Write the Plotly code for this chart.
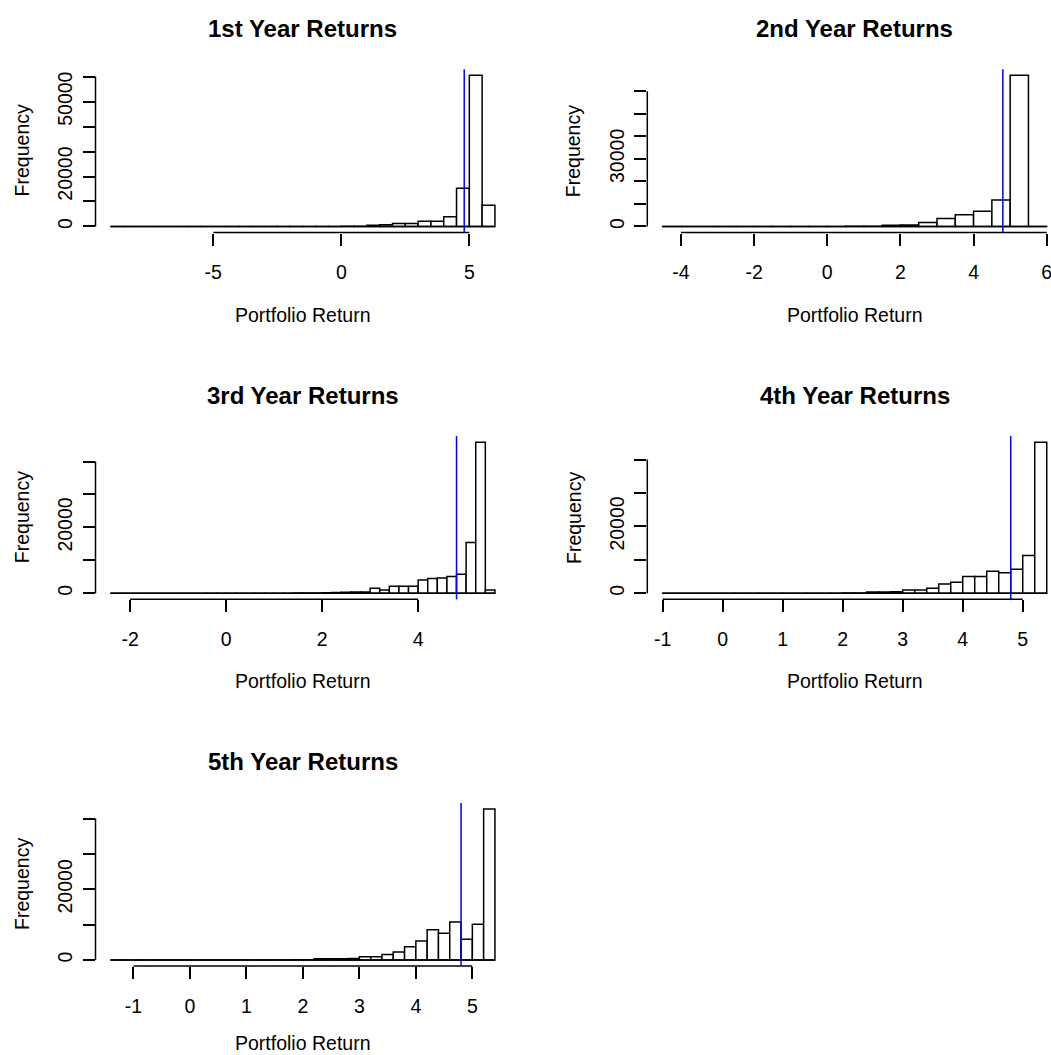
import plotly.graph_objects as go

# ---- data -------------------------------------------------------------
titles = ["1st Year Returns", "2nd Year Returns", "3rd Year Returns",
          "4th Year Returns", "5th Year Returns"]

# first break and bin width of each year's histogram
bin_starts = [-9.0, -4.5, -2.4, -1.0, -1.4]
bin_widths = [0.5, 0.5, 0.2, 0.2, 0.2]

year1_counts = [1, 0, 0, 0, 0, 0, 1, 0, 0, 1, 1, 0, 2, 3, 4, 7, 12, 21, 48, 130,
                450, 650, 1200, 1200, 2100, 2100, 3900, 15300, 60500, 8500]
year2_counts = [1, 0, 0, 1, 0, 1, 2, 3, 6, 14, 38, 95,
                500, 650, 1700, 3500, 5200, 6700, 11700, 67000, 3]
year3_counts = [1, 0, 0, 0, 1, 0, 0, 1, 0, 1, 2, 1, 3, 4, 6, 9, 13, 19, 28, 40,
                58, 85, 120, 250, 300, 350, 400, 1500, 1000, 2100, 2100, 2100,
                4000, 4500, 4600, 5100, 5800, 15400, 45900, 1000]
year4_counts = [1, 0, 0, 1, 0, 1, 1, 2, 3, 4, 7, 10, 16, 24, 38, 60, 95,
                350, 400, 450, 1000, 1000, 1500, 2800, 3300, 5000, 5000,
                6600, 6100, 7200, 11300, 45200]
year5_counts = [1, 0, 0, 0, 1, 0, 1, 1, 2, 3, 5, 7, 11, 17, 26, 40, 62, 98,
                350, 400, 400, 450, 950, 950, 1600, 2300, 3750, 5400, 8550,
                7550, 10750, 5900, 10100, 42700]
all_counts = [year1_counts, year2_counts, year3_counts, year4_counts, year5_counts]

target_return = [4.8, 4.8, 4.8, 4.8, 4.8]

x_tickvals = [[-5, 0, 5], [-4, -2, 0, 2, 4, 6], [-2, 0, 2, 4],
              [-1, 0, 1, 2, 3, 4, 5], [-1, 0, 1, 2, 3, 4, 5]]
x_ticktext = [["-5", "0", "5"], ["-4", "-2", "0", "2", "4", "6"],
              ["-2", "0", "2", "4"], ["-1", "0", "1", "2", "3", "4", "5"],
              ["-1", "0", "1", "2", "3", "4", "5"]]
y_tickvals = [[0, 10000, 20000, 30000, 40000, 50000, 60000],
              [0, 10000, 20000, 30000, 40000, 50000, 60000],
              [0, 10000, 20000, 30000, 40000],
              [0, 10000, 20000, 30000, 40000],
              [0, 10000, 20000, 30000, 40000]]
y_ticktext = [["0", "", "20000", "", "", "50000", ""],
              ["0", "", "", "30000", "", "", ""],
              ["0", "", "20000", "", ""],
              ["0", "", "20000", "", ""],
              ["0", "", "20000", "", ""]]

x_label = "Portfolio Return"
y_label = "Frequency"

# ---- page geometry (pixels) -------------------------------------------
W, H = 1051, 1055
PLOT_W, PLOT_H = 414.8, 163.2
COL_LEFT = [95.5, 647.3]
ROW_TOP = [69.3, 436.1, 802.9]
FONT = "Liberation Sans, Arial, sans-serif"
TXT = 19.5
LW = 1.5

fig = go.Figure()
layout = dict(width=W, height=H, margin=dict(l=0, r=0, t=0, b=0),
              paper_bgcolor="white", plot_bgcolor="white", template="none",
              showlegend=False, font=dict(family=FONT, size=TXT, color="black"))
shapes, annotations = [], []

for k, counts in enumerate(all_counts):
    row, col = divmod(k, 2)
    sfx = "" if k == 0 else str(k + 1)
    xa, ya = "x" + sfx, "y" + sfx

    n = len(counts)
    edges = [bin_starts[k] + bin_widths[k] * i for i in range(n + 1)]
    centers = [(edges[i] + edges[i + 1]) / 2 for i in range(n)]
    widths = [edges[i + 1] - edges[i] for i in range(n)]

    lo, hi = edges[0], edges[-1]
    span = hi - lo
    xr = [lo - 0.04 * span, hi + 0.04 * span]
    left = COL_LEFT[col]
    right = left + PLOT_W
    if right > W:  # the right column runs off the page edge
        xr[1] = xr[0] + (xr[1] - xr[0]) * (W - left) / PLOT_W
        right = W
    top = ROW_TOP[row]
    bottom = top + PLOT_H
    ymax = max(counts)
    yr = [-0.04 * ymax, 1.04 * ymax]

    fig.add_trace(go.Bar(
        x=centers, y=counts, width=widths, xaxis=xa, yaxis=ya,
        marker=dict(color="white", line=dict(color="black", width=LW)),
        hoverinfo="skip"))
    # empty bins are drawn as a flat line along zero
    fig.add_trace(go.Scatter(
        x=[lo, hi], y=[0, 0], mode="lines", xaxis=xa, yaxis=ya,
        line=dict(color="black", width=LW), hoverinfo="skip"))

    axis_common = dict(ticks="outside", ticklen=12, tickwidth=LW, tickcolor="black",
                       showgrid=False, zeroline=False, showline=False,
                       tickmode="array", tickfont=dict(size=TXT, family=FONT),
                       automargin=False, ticklabeloverflow="allow")
    layout["xaxis" + sfx] = dict(axis_common, domain=[left / W, right / W], range=xr,
                                 anchor=ya, tickvals=x_tickvals[k],
                                 ticktext=x_ticktext[k], ticklabelstandoff=10)
    layout["yaxis" + sfx] = dict(axis_common, domain=[1 - bottom / H, 1 - top / H],
                                 range=yr, anchor=xa, tickvals=y_tickvals[k],
                                 ticktext=y_ticktext[k], tickangle=-90,
                                 ticklabelstandoff=3)

    # axis lines spanning only first to last tick
    shapes.append(dict(type="line", xref=xa, yref=ya + " domain",
                       x0=x_tickvals[k][0], x1=x_tickvals[k][-1], y0=0, y1=0,
                       line=dict(color="black", width=LW)))
    shapes.append(dict(type="line", xref=xa + " domain", yref=ya,
                       x0=0, x1=0, y0=y_tickvals[k][0], y1=y_tickvals[k][-1],
                       line=dict(color="black", width=LW)))
    # target return marker
    shapes.append(dict(type="line", xref=xa, yref=ya + " domain",
                       x0=target_return[k], x1=target_return[k], y0=0, y1=1,
                       line=dict(color="#0000FF", width=LW)))

    cx = (left + PLOT_W / 2) / W
    annotations.append(dict(text="<b>" + titles[k] + "</b>", xref="paper", yref="paper",
                            x=cx, y=1 - (top - 41) / H, xanchor="center",
                            yanchor="middle", showarrow=False,
                            font=dict(size=24, family=FONT)))
    xt_center = min(bottom + 82, H - 12)
    annotations.append(dict(text=x_label, xref="paper", yref="paper",
                            x=cx, y=1 - xt_center / H, xanchor="center",
                            yanchor="middle", showarrow=False,
                            font=dict(size=TXT, family=FONT)))
    annotations.append(dict(text=y_label, xref="paper", yref="paper",
                            x=(left - 74) / W, y=1 - (top + PLOT_H / 2) / H,
                            xanchor="center", yanchor="middle", textangle=-90,
                            showarrow=False, font=dict(size=TXT, family=FONT)))

layout["shapes"] = shapes
layout["annotations"] = annotations
fig.update_layout(**layout)
fig.write_html("out.html")
